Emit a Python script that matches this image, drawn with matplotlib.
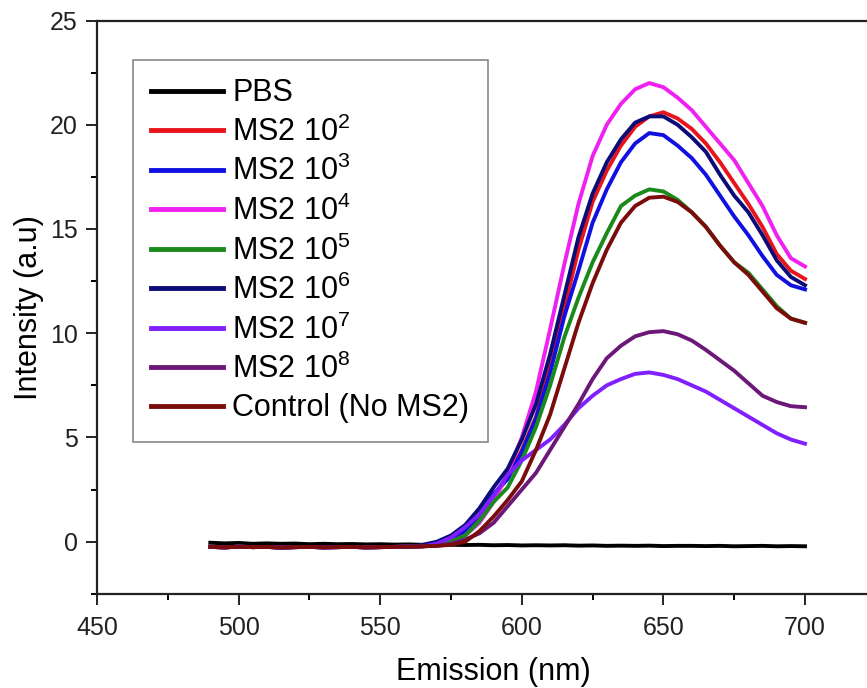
import numpy as np
import matplotlib
matplotlib.use('Agg')
import matplotlib.pyplot as plt
from matplotlib.ticker import MultipleLocator

plt.rcParams['font.family'] = ['Liberation Sans', 'DejaVu Sans']
plt.rcParams['mathtext.fontset'] = 'custom'
plt.rcParams['mathtext.rm'] = 'Liberation Sans'
plt.rcParams['mathtext.it'] = 'Liberation Sans'

# wavelength grid (nm), 490-700 every 5 nm
wavelength = np.arange(490, 701, 5)

# intensities (a.u.)
pbs = [-0.05, -0.08, -0.06, -0.1, -0.08, -0.1, -0.09, -0.12, -0.1, -0.12, -0.11, -0.13,
       -0.12, -0.14, -0.13, -0.15, -0.14, -0.15, -0.16, -0.15, -0.17, -0.16, -0.18, -0.17,
       -0.18, -0.17, -0.19, -0.18, -0.2, -0.19, -0.2, -0.19, -0.21, -0.2, -0.2, -0.21,
       -0.2, -0.22, -0.21, -0.2, -0.22, -0.21, -0.22]

base = [-0.25, -0.27, -0.24, -0.26, -0.25, -0.28, -0.26, -0.25, -0.27, -0.26, -0.25, -0.27,
        -0.26, -0.25, -0.24, -0.22]

ms2_1e2 = base + [-0.15, 0.1, 0.5, 1.2, 2.1, 3.1, 4.4, 6.0, 8.4, 11.2, 14.0, 16.3, 17.8, 19.0,
                  19.9, 20.4, 20.6, 20.3, 19.8, 19.1, 18.2, 17.2, 16.2, 15.1, 13.8, 13.0, 12.6]
ms2_1e3 = base + [-0.15, 0.1, 0.5, 1.3, 2.3, 3.0, 4.3, 5.9, 8.1, 10.8, 13.0, 15.3, 16.9, 18.2,
                  19.1, 19.6, 19.5, 19.0, 18.4, 17.6, 16.6, 15.6, 14.7, 13.7, 12.8, 12.3, 12.1]
ms2_1e4 = base + [-0.15, 0.0, 0.3, 0.9, 1.9, 3.3, 5.0, 7.2, 10.2, 13.3, 16.2, 18.5, 20.0, 21.0,
                  21.7, 22.0, 21.8, 21.3, 20.7, 19.9, 19.1, 18.3, 17.2, 16.1, 14.7, 13.6, 13.2]
ms2_1e5 = base + [-0.18, 0.0, 0.3, 1.0, 1.9, 2.6, 3.9, 5.5, 7.5, 9.8, 11.7, 13.4, 14.8, 16.1,
                  16.6, 16.9, 16.8, 16.4, 15.8, 15.1, 14.2, 13.4, 12.9, 12.1, 11.3, 10.7, 10.5]
ms2_1e6 = base[:-1] + [-0.15, 0.0, 0.3, 0.8, 1.6, 2.6, 3.5, 4.9, 6.6, 9.0, 11.8, 14.6, 16.7, 18.2,
                       19.3, 20.1, 20.4, 20.4, 20.0, 19.4, 18.7, 17.6, 16.6, 15.8, 14.7, 13.5,
                       12.7, 12.3]
ms2_1e7 = base + [-0.1, 0.2, 0.7, 1.3, 2.2, 3.2, 3.9, 4.4, 4.9, 5.6, 6.4, 7.0, 7.5, 7.8,
                  8.05, 8.12, 8.0, 7.8, 7.5, 7.2, 6.8, 6.4, 6.0, 5.6, 5.2, 4.9, 4.7]
ms2_1e8 = base + [-0.2, -0.1, 0.1, 0.4, 0.9, 1.7, 2.5, 3.3, 4.4, 5.5, 6.6, 7.8, 8.8, 9.4,
                  9.85, 10.05, 10.1, 9.95, 9.65, 9.2, 8.7, 8.2, 7.6, 7.0, 6.7, 6.5, 6.45]
control = base + [-0.2, -0.15, 0.0, 0.5, 1.2, 2.0, 2.9, 4.4, 6.1, 8.3, 10.5, 12.4, 14.0, 15.3,
                  16.1, 16.5, 16.55, 16.3, 15.8, 15.1, 14.2, 13.4, 12.8, 12.0, 11.2, 10.7, 10.5]

labels = ['PBS', r'MS2 10$^2$', r'MS2 10$^3$', r'MS2 10$^4$', r'MS2 10$^5$',
          r'MS2 10$^6$', r'MS2 10$^7$', r'MS2 10$^8$', 'Control (No MS2)']
series = [pbs, ms2_1e2, ms2_1e3, ms2_1e4, ms2_1e5, ms2_1e6, ms2_1e7, ms2_1e8, control]
colors = ['#000000', '#e8141b', '#1010e0', '#f020f0', '#1a8a1a',
          '#0c0c78', '#8020ff', '#6c1878', '#7a0c0c']

fig = plt.figure(figsize=(8.67, 6.88), dpi=100)
ax = fig.add_axes([0.1119, 0.1369, 0.9146, 0.8333])

for y, c, lab in zip(series, colors, labels):
    ax.plot(wavelength, y, color=c, lw=2.8, label=lab)

ax.set_xlim(450, 730)
ax.set_ylim(-2.5, 25)
ax.xaxis.set_major_locator(MultipleLocator(50))
ax.xaxis.set_minor_locator(MultipleLocator(25))
ax.yaxis.set_major_locator(MultipleLocator(5))
ax.yaxis.set_minor_locator(MultipleLocator(2.5))
ax.tick_params(which='major', direction='out', length=8, width=1.4, labelsize=18, pad=6,
               colors='#222222')
ax.tick_params(axis='x', which='major', pad=8)
ax.tick_params(which='minor', direction='out', length=4, width=1.4)
for s in ax.spines.values():
    s.set_linewidth(1.6)
    s.set_color('#222222')

ax.set_xlabel('Emission (nm)', fontsize=22, labelpad=12)
ax.set_ylabel('Intensity (a.u)', fontsize=22, labelpad=4)

leg = ax.legend(loc='upper left', bbox_to_anchor=(133 / 867, 1 - 60 / 688),
                bbox_transform=fig.transFigure, borderaxespad=0, fontsize=22,
                handlelength=2.35, handletextpad=0.3, labelspacing=0.27, borderpad=0.6,
                fancybox=False, edgecolor='#888888', framealpha=1)
leg.get_frame().set_linewidth(1.2)
for line in leg.get_lines():
    line.set_linewidth(3.5)

fig.savefig('out.png', dpi=100)
